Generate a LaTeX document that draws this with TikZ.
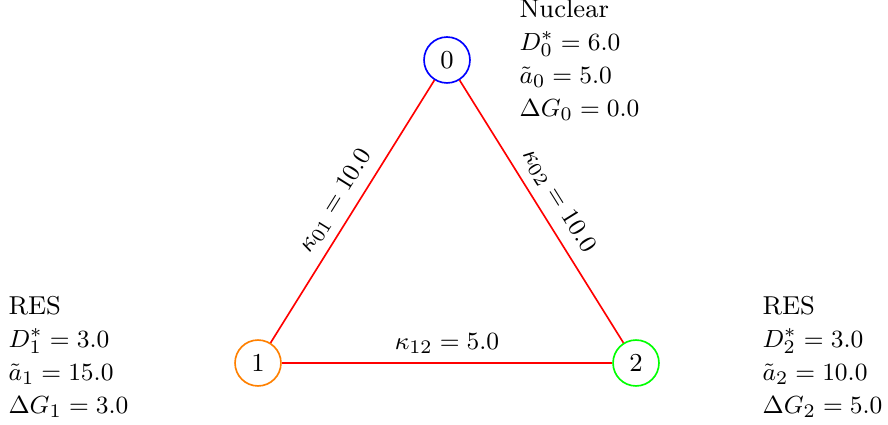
\documentclass[tikz,border=0pt]{standalone}
\begin{document}
\begin{tikzpicture}[x=0.3636pt,y=-0.3636pt,
  font=\fontsize{9.4pt}{12pt}\selectfont,
  st/.style={circle,draw,semithick,minimum size=16.7pt,inner sep=0pt},
  edge/.style={red,semithick},
  lbl/.style={text=black},
  info/.style={anchor=west,align=left,inner sep=0pt}]
\useasboundingbox (0,0) rectangle (888,425);
\node[st,draw=blue] (n0) at (447,60) {0};
\node[st,draw=orange] (n1) at (258,363) {1};
\node[st,draw=green] (n2) at (636,363) {2};
\draw[edge] (n1) -- node[lbl,above,sloped] {$\kappa_{01} = 10.0$} (n0);
\draw[edge] (n0) -- node[lbl,above,sloped] {$\kappa_{02} = 10.0$} (n2);
\draw[edge] (n1) -- node[lbl,above] {$\kappa_{12} = 5.0$} (n2);
\node[info] (t0) at (519,60) {Nuclear\\ $D^*_0 = 6.0$\\ $\tilde{a}_0 = 5.0$\\ $\Delta G_0 = 0.0$};
\node[info] (t1) at (8,357) {RES\\ $D^*_1 = 3.0$\\ $\tilde{a}_1 = 15.0$\\ $\Delta G_1 = 3.0$};
\node[info] (t2) at (762,357) {RES\\ $D^*_2 = 3.0$\\ $\tilde{a}_2 = 10.0$\\ $\Delta G_2 = 5.0$};
\end{tikzpicture}
\end{document}
